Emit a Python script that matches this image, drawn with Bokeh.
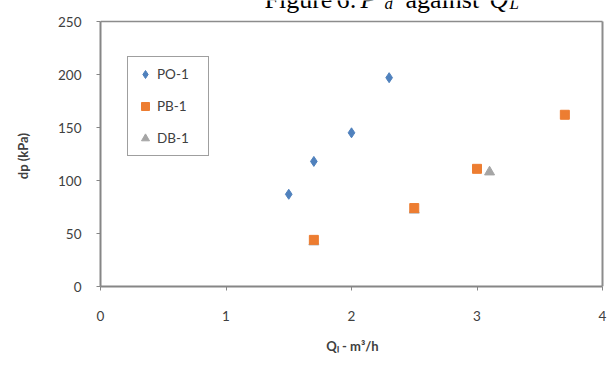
from bokeh.plotting import figure
from bokeh.models import Legend, LegendItem, Label, Range1d, FixedTicker
from bokeh.embed import file_html
from bokeh.resources import INLINE

po_x = [1.5, 1.7, 2.0, 2.3]
po_y = [87, 118, 145, 197]
pb_x = [1.7, 2.5, 3.0, 3.7]
pb_y = [44, 74, 111, 162]
db_x = [1.7, 2.5, 3.1]
db_y = [42, 72, 108]
x_ticks = [0, 1, 2, 3, 4]
y_ticks = [0, 50, 100, 150, 200, 250]

FONT = "Lato"
TXT = "#404040"
X_MIN, X_MAX = x_ticks[0], x_ticks[-1]
Y_MIN, Y_MAX = y_ticks[0], y_ticks[-1]
# the frame reaches to the top of the window so the (cut-off) title can sit in it
Y_TOP = Y_MAX + 21 * Y_MAX / 265
X_RIGHT = X_MAX + 2 * X_MAX / 502

p = figure(width=616, height=365, output_backend="svg", toolbar_location=None,
           x_range=Range1d(X_MIN, X_RIGHT), y_range=Range1d(Y_MIN, Y_TOP),
           min_border_left=100, min_border_right=12, min_border_top=0, min_border_bottom=79)
p.xgrid.visible = False
p.ygrid.visible = False
p.outline_line_color = None

for ax in (p.xaxis[0], p.yaxis[0]):
    ax.axis_line_color = "#868686"
    ax.axis_line_width = 2
    ax.major_tick_line_color = "#868686"
    ax.major_tick_in = 0
    ax.major_tick_out = 4
    ax.minor_tick_line_color = None
    ax.major_label_text_font = FONT
    ax.major_label_text_font_size = "13.5px"
    ax.major_label_text_color = TXT
    ax.axis_label_text_font = FONT
    ax.axis_label_text_font_size = "13px"
    ax.axis_label_text_font_style = "bold"
    ax.axis_label_text_color = TXT

p.xaxis.bounds = (X_MIN, X_MAX)
p.yaxis.bounds = (Y_MIN, Y_MAX)
p.xaxis.ticker = FixedTicker(ticks=x_ticks)
p.yaxis.ticker = FixedTicker(ticks=y_ticks)
p.xaxis.major_label_standoff = 20
p.yaxis.major_label_standoff = 15
p.xaxis.axis_label = "Qₗ - m³/h"
p.yaxis.axis_label = "dp (kPa)" + "\u00a0" * 8
p.xaxis.axis_label_standoff = 14
p.yaxis.axis_label_standoff = 24

# plot-area border (top and right edges)
p.line([X_MIN, X_MAX], [Y_MAX, Y_MAX], line_color="#8c8c8c", line_width=1.5)
p.line([X_MAX, X_MAX], [Y_MIN, Y_MAX], line_color="#8c8c8c", line_width=2)

r_db = p.scatter(db_x, db_y, marker="triangle", size=10, color="#A5A5A5")
r_pb = p.scatter(pb_x, pb_y, marker="square", size=9, color="#ED7D31")
r_po = p.scatter(po_x, po_y, marker="diamond", size=10, color="#4F81BD")

legend = Legend(items=[LegendItem(label="PO-1", renderers=[r_po]),
                       LegendItem(label="PB-1", renderers=[r_pb]),
                       LegendItem(label="DB-1", renderers=[r_db])],
                location=(27, 130), padding=7, spacing=12, label_standoff=2,
                glyph_width=20, glyph_height=20, label_width=44,
                label_text_font=FONT, label_text_font_size="13.5px", label_text_color=TXT,
                border_line_color="#404040", border_line_width=1.5,
                background_fill_color="white", background_fill_alpha=1, margin=0)
p.add_layout(legend, "center")

# Title, its top cut off by the window edge as in the reference
FRAME_LEFT = 100
parts = [("Figure", 264, "normal", "26px", 287),
         ("6:", 336, "normal", "26px", 287),
         ("P", 360, "italic", "26px", 287),
         ("d", 384, "italic", "17px", 283),
         ("against", 405, "normal", "26px", 287),
         ("Q", 489, "italic", "26px", 287),
         ("L", 509, "italic", "17px", 283)]
for txt, sx, style, fs, sy in parts:
    p.add_layout(Label(x=sx - FRAME_LEFT, y=sy, x_units="screen", y_units="screen",
                       text=txt, text_font="Liberation Serif", text_font_size=fs,
                       text_font_style=style, text_color="black",
                       text_baseline="alphabetic", text_align="left"))

open("out.html", "w").write(file_html(p, INLINE))
